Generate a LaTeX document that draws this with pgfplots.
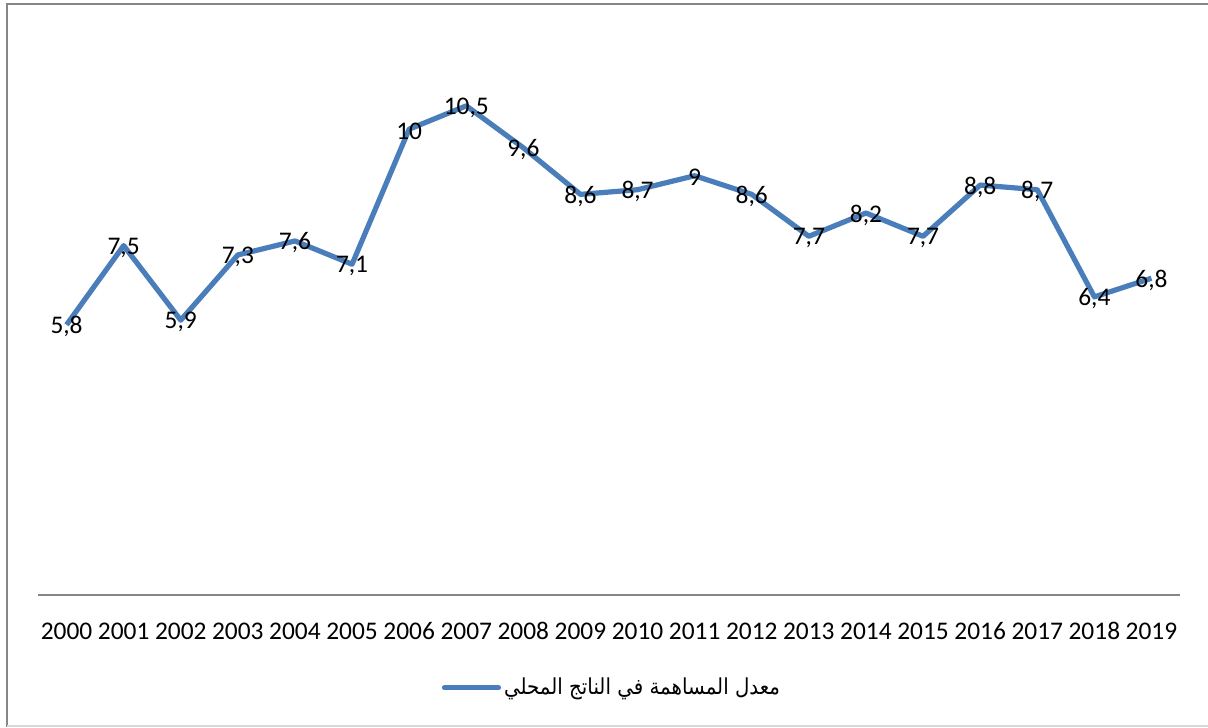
\documentclass[border=0pt]{standalone}
\usepackage{pgfplots}
\pgfplotsset{compat=1.18}
\usepackage{fontspec}
\setmainfont{Carlito}
\newfontfamily\arabicfont[Script=Arabic, FakeStretch=0.9]{DejaVu Sans}
\TeXXeTstate=1
\definecolor{serie}{RGB}{74,126,187}
\definecolor{framegray}{RGB}{134,134,134}
\pgfplotstableread{
x y lab
0 5.8 5,8
1 7.5 7,5
2 5.9 5,9
3 7.3 7,3
4 7.6 7,6
5 7.1 7,1
6 10 10
7 10.5 10,5
8 9.6 9,6
9 8.6 8,6
10 8.7 8,7
11 9 9
12 8.6 8,6
13 7.7 7,7
14 8.2 8,2
15 7.7 7,7
16 8.8 8,8
17 8.7 8,7
18 6.4 6,4
19 6.8 6,8
}\datatable
\begin{document}
\begin{tikzpicture}
\useasboundingbox (0,0) rectangle (604pt,363.5pt);
\draw[framegray, line width=1pt] (604pt,361.5pt) -- (3.5pt,361.5pt) -- (3.5pt,0pt);
\draw[black!15, line width=0.8pt] (3.5pt,0.6pt) -- (604pt,0.6pt);
\begin{axis}[
  at={(19pt,66pt)}, anchor=south west,
  width=571pt, height=279.5pt, scale only axis,
  xmin=-0.5, xmax=19.5, ymin=0, ymax=12,
  axis x line*=bottom, hide y axis,
  axis line style={framegray, line width=0.9pt},
  xtick=data, major tick length=0pt,
  xticklabels={2000,2001,2002,2003,2004,2005,2006,2007,2008,2009,2010,2011,2012,2013,2014,2015,2016,2017,2018,2019},
  xticklabel style={font=\fontsize{12.7}{15}\selectfont, anchor=center, yshift=-18pt},
  /pgf/number format/assume math mode=true,
  clip=false,
  legend style={at={(0.503,-0.166)}, anchor=center, draw=none, fill=none,
    font=\fontsize{11}{14}\selectfont, nodes={inner xsep=1.5pt}},
  legend image code/.code={\draw[#1, line cap=round] (0pt,0pt) -- (27pt,0pt);},
]
\addplot[serie, line width=2.6pt, line join=round, mark=none,
  nodes near coords, point meta=explicit symbolic,
  nodes near coords align=center,
  every node near coord/.append style={anchor=center, text=black, font=\fontsize{12.7}{15}\selectfont, yshift=-1pt}]
  table[x=x, y=y, meta=lab] {\datatable};
\addlegendentry{\arabicfont\beginR معدل المساهمة في الناتج المحلي\endR}
\end{axis}
\end{tikzpicture}
\end{document}
